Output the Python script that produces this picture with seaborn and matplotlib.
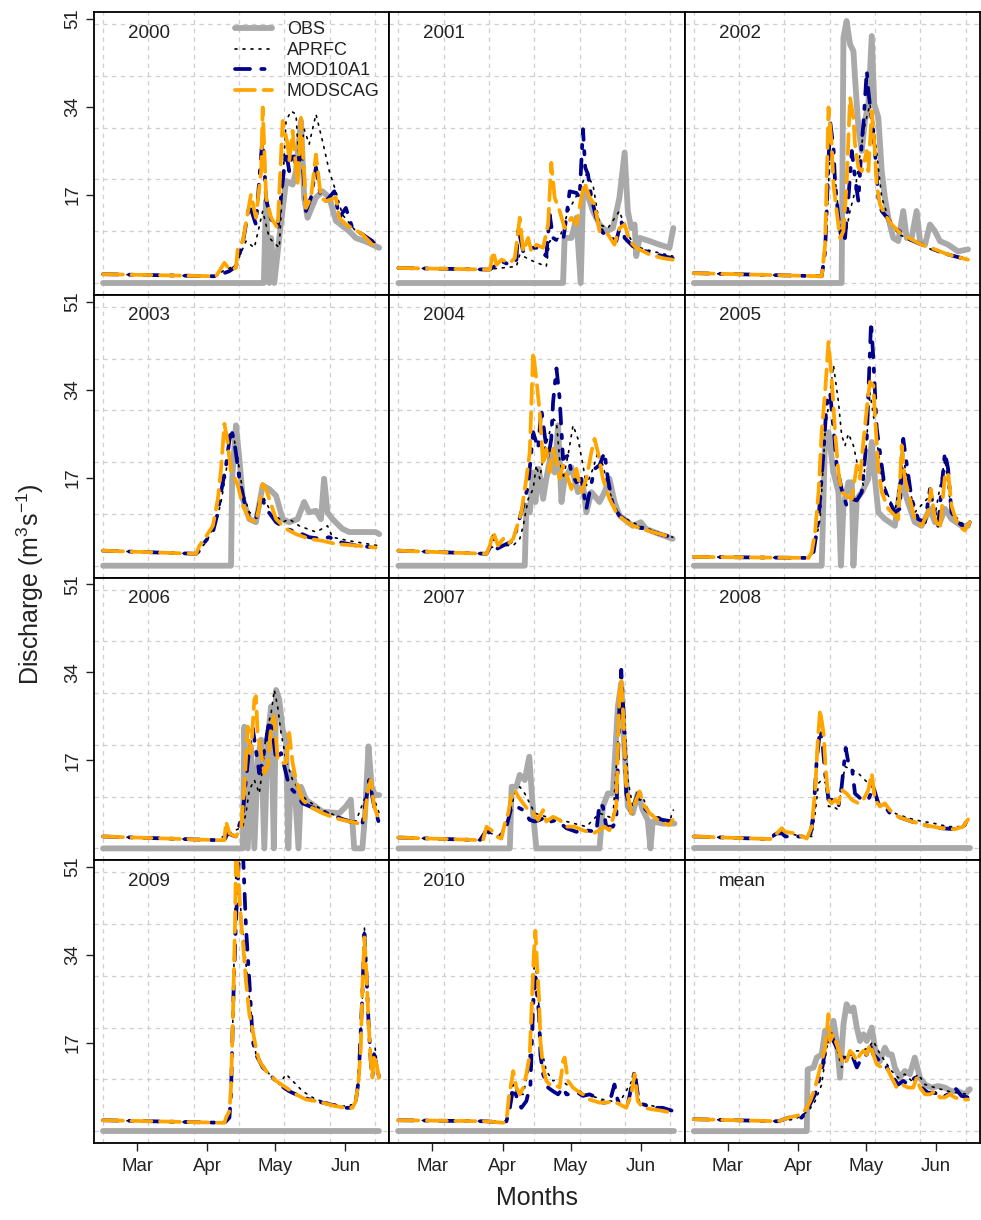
import matplotlib
matplotlib.use("Agg")
import matplotlib.pyplot as plt
from matplotlib.ticker import FixedLocator
import seaborn as sns
import pandas as pd

# ---------------- data (day index from 15 Feb, discharge m3/s) ----------------
PANELS = ["2000", "2001", "2002", "2003", "2004", "2005",
          "2006", "2007", "2008", "2009", "2010", "mean"]
SERIES = ["OBS", "APRFC", "MOD10A1", "MODSCAG"]
MONTH_POS = [15, 46, 76, 107]
MONTH_LABELS = ["Mar", "Apr", "May", "Jun"]
Y_TICKS = [17, 34, 51]

# ---- 2000
OBS_2000 = [(0, 0), (71, 0), (71.9, 15.8), (73.4, 0), (74.2, 8.7), (75.6, 0), (77.8, 8.7), (80.8, 19.7),
            (83.7, 19.0), (85.2, 21.6), (87.4, 31.3), (88.8, 16.5), (90.3, 12.6), (94, 16.5), (96.9, 17.7),
            (99.9, 16.5), (102.8, 12.0), (108.7, 10.0), (111.6, 8.7), (116, 8.0), (121.9, 6.8)]
APRFC_2000 = [(0, 1.7), (49.9, 1.3), (52.9, 2.3), (58.7, 3.5), (63.1, 8.1), (66.8, 6.8), (70.5, 13.9),
              (73.4, 8.7), (77.8, 6.8), (80.8, 31.3), (83, 33.2), (85.2, 32.6), (86.6, 22.3), (88.8, 29.7),
              (91, 26.8), (94, 32.6), (96.9, 27.4), (99.9, 21.6), (102.8, 17.7), (105.7, 13.2), (111.6, 10.0),
              (118.9, 8.1), (121.9, 7.4)]
MOD10A1_2000 = [(0, 1.7), (49.9, 1.3), (55.8, 2.3), (58.7, 3.2), (61.7, 7.7), (64.6, 15.2), (67.5, 11.3),
                (70.5, 28.7), (72, 16.1), (74.2, 12.3), (77.1, 10.6), (80.8, 25.5), (82.2, 21.6), (83.7, 25.5),
                (85.9, 21.6), (87.4, 28.1), (89.6, 13.9), (91.8, 16.5), (94, 22.3), (96.2, 16.5), (98.4, 15.8),
                (102.1, 17.7), (104.3, 12.6), (107.2, 14.5), (110.1, 10.6), (114.5, 9.4), (118.9, 8.1),
                (121.9, 7.1)]
MODSCAG_2000 = [(0, 1.7), (49.9, 1.3), (53.6, 3.9), (55.8, 2.6), (58.7, 2.9), (59.5, 6.8), (61.7, 8.1),
                (65.3, 17.1), (67.5, 12.6), (69.8, 21.6), (70.5, 33.9), (72, 16.5), (74.2, 12.6), (77.1, 10.6),
                (79.3, 31.3), (81.5, 26.8), (82.2, 23.5), (83.7, 29.4), (85.9, 19.0), (87.4, 31.9), (89.6, 14.5),
                (91.8, 16.5), (94, 24.8), (96.2, 16.5), (98.4, 15.8), (102.8, 16.5), (104.3, 12.6),
                (107.2, 11.3), (110.1, 10.6), (114.5, 9.4), (118.9, 7.4), (121.9, 6.8)]

# ---- 2001
OBS_2001 = [(0, 0), (72.7, 0), (73.4, 8.7), (76.4, 8.7), (78.6, 12.6), (80.5, 0), (81.5, 16.5), (83, 17.7),
            (85.9, 13.9), (88.8, 11.3), (91.8, 10.0), (94.7, 10.6), (97.6, 16.5), (99.9, 25.2), (101.3, 13.9),
            (102.8, 10.6), (104.3, 11.3), (105, 5.2), (106.5, 8.7), (110.9, 8.1), (115.3, 7.4), (119.7, 6.8),
            (121.4, 10.6)]
APRFC_2001 = [(0, 2.9), (38.9, 2.6), (52.1, 3.2), (53.6, 5.5), (59.5, 4.2), (65.3, 3.2), (66.8, 8.1),
              (71.2, 8.7), (75, 13.9), (78.6, 16.8), (83, 21.0), (85.9, 19.0), (88.8, 11.3), (92.5, 10.6),
              (97.6, 13.9), (100.6, 10.0), (104.3, 7.1), (112.3, 6.1), (121.1, 5.2)]
MOD10A1_2001 = [(0, 2.9), (38.9, 2.6), (40.4, 2.6), (45.5, 4.2), (49.2, 3.5), (52.1, 4.5), (52.9, 10.6),
                (55.1, 6.1), (57.3, 6.8), (61, 6.8), (65.3, 5.2), (66.8, 13.2), (68.3, 8.7), (70.5, 8.1),
                (72.7, 8.1), (74.9, 15.2), (75.6, 17.7), (78.6, 17.4), (80, 16.5), (81.5, 29.7), (82.5, 22.3),
                (83.7, 21.0), (85.2, 16.5), (87.4, 12.6), (90.3, 9.7), (96.2, 8.1), (98.4, 12.0), (99.9, 8.7),
                (103.5, 7.1), (109.4, 6.1), (116.7, 5.2), (121.1, 4.8)]
MODSCAG_2001 = [(0, 2.9), (38.9, 2.6), (40.4, 2.6), (41.9, 6.1), (43.3, 3.5), (45.5, 4.5), (49.2, 3.9),
                (51.4, 4.8), (53.6, 12.6), (55.1, 6.1), (57.3, 8.7), (58.7, 6.1), (60.9, 7.4), (63.9, 6.8),
                (66.1, 11.3), (67.5, 23.2), (69, 16.5), (71.2, 13.9), (73.4, 10.6), (76.4, 12.6), (78.6, 11.3),
                (80.8, 16.5), (82.2, 19.4), (84.4, 16.5), (86.6, 15.2), (88.8, 10.0), (92.5, 9.4), (95.4, 7.4),
                (97.6, 10.6), (99.9, 11.3), (102.1, 8.1), (105, 6.8), (110.9, 5.5), (116.7, 4.8), (121.1, 4.5)]

# ---- 2002
OBS_2002 = [(0, 0), (65.3, 0), (66.1, 47.4), (67.5, 50.6), (69, 46.1), (70.5, 44.8), (71.2, 39.7),
            (72.7, 30.0), (74.2, 25.5), (75.6, 31.3), (77.1, 34.5), (78.6, 47.7), (79.7, 34.5), (81.5, 32.0),
            (83, 21.6), (84.4, 16.5), (85.9, 12.6), (88.1, 8.7), (90.3, 8.1), (92.5, 13.9), (94, 8.7),
            (96.2, 8.7), (98.4, 13.9), (99.9, 8.1), (102.1, 7.4), (104.3, 11.3), (106.5, 10.0), (108.7, 8.1),
            (112.3, 7.4), (116.7, 6.1), (121.1, 6.5)]
APRFC_2002 = [(0, 1.9), (56.5, 1.3), (57.3, 2.9), (58.7, 11.3), (60.2, 25.5), (62.4, 20.3), (64.6, 10.6),
              (66.8, 8.7), (69, 13.9), (71.2, 17.7), (73.4, 24.8), (75.6, 30.6), (77.8, 34.5), (79.3, 31.3),
              (81.5, 22.3), (83, 16.5), (85.9, 12.6), (90.3, 9.4), (97.6, 8.1), (106.5, 6.1), (114, 5.2),
              (121.1, 4.8)]
MOD10A1_2002 = [(0, 1.9), (56.5, 1.3), (58, 6.1), (60.2, 31.3), (61.7, 26.1), (62.4, 19.4), (63.9, 12.6),
                (65.3, 8.1), (66.8, 8.7), (68.3, 16.5), (69.8, 25.5), (71.2, 20.3), (72.7, 15.8), (74.2, 27.4),
                (74.9, 30.6), (76.4, 41.0), (77.1, 37.1), (78.6, 31.3), (80, 25.5), (81.5, 16.5), (83, 13.9),
                (85.9, 12.3), (88.8, 10.6), (91.8, 9.7), (95.4, 8.4), (99.1, 7.7), (105.7, 6.5), (112.3, 5.5),
                (121.1, 4.5)]
MODSCAG_2002 = [(0, 1.9), (56.5, 1.3), (58, 7.4), (59.5, 33.9), (60.9, 26.8), (61.7, 19.0), (63.1, 13.9),
                (64.6, 8.7), (66.1, 10.0), (67.5, 19.0), (69, 35.8), (70.5, 32.0), (71.2, 26.8), (72.7, 22.3),
                (74.2, 21.6), (76.4, 25.5), (77.1, 21.6), (78.6, 33.2), (79.7, 27.4), (80.8, 19.0), (82.2, 15.2),
                (84.4, 13.2), (87.4, 11.3), (91.8, 9.4), (96.2, 8.4), (100.6, 7.4), (106.5, 6.5), (112.3, 5.5),
                (121.1, 4.5)]

# ---- 2003
OBS_2003 = [(0, 0), (56.5, 0), (57, 16.8), (58.7, 27.1), (60.2, 20.6), (61.7, 12.9), (64.6, 9.0),
            (67.5, 8.4), (70.5, 15.5), (73.4, 14.8), (76.4, 13.5), (79.3, 9.0), (82.2, 8.4), (85.9, 9.0),
            (88.8, 12.3), (91, 10.3), (94, 10.6), (96.2, 9.0), (97.6, 16.8), (99.1, 10.3), (101.3, 9.0),
            (105.7, 7.1), (108.7, 6.5), (114.5, 6.5), (120.4, 6.5), (121.9, 6.1)]
APRFC_2003 = [(0, 2.9), (41.1, 2.3), (42.6, 3.2), (45.5, 4.5), (49.9, 8.4), (52.1, 12.3), (54.3, 18.0),
              (55.8, 23.9), (57.3, 25.8), (59.5, 20.6), (61.7, 14.2), (64.6, 10.3), (67.5, 9.7), (70.5, 13.5),
              (73.4, 11.0), (79.3, 8.4), (82.2, 9.0), (86.6, 7.7), (94, 6.5), (99.1, 7.7), (101.3, 5.5),
              (108.7, 4.8), (121.1, 3.9)]
MOD10A1_2003 = [(0, 2.9), (41.1, 2.3), (42.6, 2.9), (44.8, 4.5), (48.5, 6.5), (50.7, 10.3), (52.1, 14.2),
                (54.3, 19.4), (56.5, 26.5), (58, 23.9), (60.2, 16.8), (62.4, 12.3), (64.6, 9.0), (67.5, 9.0),
                (69.8, 13.5), (72, 11.0), (76.4, 8.4), (80.8, 7.1), (85.9, 6.5), (91, 5.5), (96.2, 5.2),
                (99.9, 5.5), (105, 4.5), (111.6, 3.9), (120.4, 3.5)]
MODSCAG_2003 = [(0, 2.9), (41.1, 2.3), (42.6, 3.9), (44.8, 5.2), (48.5, 7.7), (50.7, 12.9), (52.1, 18.7),
                (53.6, 27.4), (55, 23.9), (56.5, 18.0), (58, 17.1), (59.5, 15.5), (61.7, 11.6), (64.6, 9.0),
                (67.5, 8.4), (69, 11.6), (70.5, 15.8), (72, 14.8), (73.4, 12.9), (76.4, 9.0), (80.8, 7.1),
                (85.2, 6.1), (91, 5.2), (96.9, 4.8), (102.8, 4.2), (111.6, 3.9), (120.4, 3.5)]

# ---- 2004
OBS_2004 = [(0, 0), (55.8, 0), (56.5, 11.6), (58, 10.3), (59.5, 18.0), (60.5, 12.3), (62, 18.7),
            (63.9, 12.9), (65.3, 16.8), (67.5, 21.9), (69, 18.0), (70.5, 27.1), (72, 12.3), (73.4, 16.8),
            (74.9, 18.0), (76.4, 19.0), (77.8, 16.8), (79.3, 14.2), (81.5, 15.5), (83, 10.3), (85.2, 14.2),
            (86.6, 13.5), (88.8, 12.3), (91, 14.2), (93.2, 16.8), (95.4, 12.3), (97.6, 9.7), (103.5, 7.7),
            (107, 8.4), (109.4, 7.1), (115.3, 6.1), (121.1, 5.2)]
APRFC_2004 = [(0, 2.9), (38.9, 2.3), (40.4, 3.5), (46.3, 3.9), (50.7, 3.9), (53.6, 5.2), (55.1, 7.7),
              (57.3, 12.9), (59.5, 14.8), (60.9, 19.4), (62.4, 16.8), (64.6, 22.6), (66.8, 25.8), (68.3, 28.4),
              (69.8, 27.7), (71.2, 20.6), (72.7, 16.8), (74.9, 21.3), (77.1, 27.1), (79.3, 24.5), (81.5, 19.4),
              (83, 15.5), (85.9, 18.7), (88.1, 21.9), (90.3, 19.4), (92.5, 15.5), (94.7, 12.3), (97.6, 9.7),
              (106.5, 7.7), (121.1, 5.5)]
MOD10A1_2004 = [(0, 2.9), (38.9, 2.3), (40.4, 3.5), (41.9, 5.8), (43.3, 3.2), (46.3, 3.9), (50.7, 4.8),
                (55.1, 11.6), (57.3, 15.5), (59.5, 25.8), (61.7, 22.6), (63.1, 30.3), (64.6, 25.2), (66.1, 20.6),
                (67.5, 24.5), (68.3, 31.6), (69.8, 38.1), (71.2, 32.3), (72.7, 20.6), (74.9, 21.3), (76.4, 18.0),
                (78.6, 16.1), (80.8, 16.8), (83, 11.0), (84.4, 14.2), (86.6, 18.7), (88.8, 19.4), (91, 21.9),
                (92.5, 16.8), (94.7, 11.6), (97.6, 9.7), (103.5, 7.7), (108.7, 7.1), (115.3, 6.1), (121.1, 5.5)]
MODSCAG_2004 = [(0, 2.9), (38.9, 2.3), (40.4, 3.9), (41.9, 6.5), (44, 3.9), (46.3, 5.2), (48.5, 4.2),
                (50.7, 5.2), (54.3, 10.3), (56.5, 16.8), (58, 21.9), (59.5, 41.3), (60.9, 36.1), (62.4, 29.7),
                (63.9, 19.4), (65.3, 22.6), (66.8, 18.0), (68.3, 22.6), (69.8, 20.0), (71.2, 16.8), (72.7, 19.4),
                (74.9, 16.8), (76.4, 14.8), (78.6, 18.7), (80.8, 14.2), (83, 16.8), (85.2, 21.9), (86.6, 24.5),
                (88.1, 21.9), (90.3, 16.8), (93.2, 12.9), (96.2, 10.3), (99.1, 9.0), (103.5, 7.7), (107.9, 7.1),
                (112.3, 6.5), (118.2, 5.8), (121.1, 5.2)]

# ---- 2005
OBS_2005 = [(0, 0), (56.5, 0), (58, 25.2), (59.5, 25.8), (61.7, 18.0), (63.9, 14.2), (65, 0), (66.1, 11.6),
            (68.3, 16.1), (69.8, 16.1), (70.5, 0), (72, 12.9), (74.2, 14.2), (77.1, 16.8), (78.6, 23.9),
            (80, 16.8), (81.5, 10.3), (84.4, 9.0), (88.8, 7.7), (91.8, 16.8), (94.1, 12.9), (97.6, 8.4),
            (100.6, 7.7), (104.3, 11.0), (106.5, 8.4), (108.7, 8.4), (110.9, 11.0), (113.8, 9.0), (118.2, 7.7),
            (121.1, 7.7)]
APRFC_2005 = [(0, 1.7), (50.7, 1.5), (52.9, 2.6), (55.8, 9.0), (58, 25.8), (61.7, 38.7), (63.9, 31.6),
              (65.3, 25.2), (66.8, 23.2), (68.3, 25.5), (70.5, 23.2), (72.7, 18.7), (74.9, 15.5), (76.4, 24.5),
              (77.8, 33.5), (80, 27.1), (83, 16.8), (88.8, 10.3), (92.5, 20.6), (97.6, 10.3), (104.3, 13.5),
              (106.5, 9.7), (110.9, 20.6), (113.8, 10.3), (119.7, 7.7), (121.9, 8.4)]
MOD10A1_2005 = [(0, 1.7), (50.7, 1.5), (52.9, 2.6), (55.1, 9.0), (57.3, 21.9), (58.7, 31.6), (60.2, 33.5),
                (61.7, 26.5), (63.1, 19.4), (65.3, 14.8), (67.5, 11.6), (69.8, 12.9), (72, 12.6), (74.2, 14.2),
                (76.4, 24.5), (77.4, 36.8), (78.3, 47.1), (79.3, 40.0), (80.8, 26.5), (83, 19.4), (84.4, 14.8),
                (85.9, 12.9), (88.8, 10.3), (91, 11.0), (92.5, 24.5), (94.1, 19.4), (96.2, 12.9), (99.1, 9.0),
                (102.1, 8.4), (104.3, 14.8), (105.7, 11.6), (107.9, 7.7), (110.9, 21.9), (112.3, 18.7),
                (113.8, 10.3), (116.7, 8.4), (120.4, 7.1), (121.9, 8.4)]
MODSCAG_2005 = [(0, 1.7), (50.7, 1.5), (52.1, 2.6), (53.6, 6.5), (55.1, 14.2), (56.5, 25.8), (58, 33.5),
                (59.5, 43.2), (60.9, 36.1), (62.4, 25.8), (63.9, 18.0), (65.3, 14.2), (67.5, 13.5), (69.8, 12.9),
                (72, 19.4), (73.4, 16.8), (74.9, 23.9), (76.4, 30.3), (77.8, 35.5), (79.3, 34.8), (80, 29.0),
                (81.5, 18.7), (83, 14.2), (85.9, 11.0), (90.3, 9.0), (91.8, 23.2), (93.2, 16.8), (94.7, 14.2),
                (97.6, 9.0), (100.6, 7.7), (103.5, 10.3), (104.7, 14.8), (106.5, 9.0), (108.7, 7.1),
                (110.9, 17.4), (112.3, 18.0), (113.8, 11.6), (116.7, 7.7), (119.7, 6.8), (121.9, 8.4)]

# ---- 2006
OBS_2006 = [(0, 0), (61.7, 0), (62.4, 23.5), (63.9, 0), (65.3, 19.7), (66.8, 0), (68.3, 17.1), (69.8, 21.0),
            (71.2, 0), (72.7, 21.0), (74.2, 27.4), (75.4, 0), (76.4, 30.6), (77.8, 28.7), (79.3, 22.9),
            (80.8, 21.0), (81.8, 0), (83, 14.5), (84.4, 13.2), (86.3, 0), (87.4, 11.9), (89.6, 9.4),
            (96.9, 7.1), (104.3, 6.8), (107.2, 8.1), (109.4, 9.4), (110.9, 0), (114.5, 0), (115.7, 6.8),
            (117.2, 19.7), (118.6, 11.9), (120.1, 10.3), (121.9, 10.3)]
APRFC_2006 = [(0, 2.3), (49.9, 1.6), (55.8, 2.9), (61.7, 4.2), (63.1, 6.8), (64.6, 11.3), (66.8, 13.2),
              (69, 10.6), (70.5, 15.8), (72, 22.3), (74.2, 26.1), (75.6, 30.6), (77.1, 27.4), (78.6, 22.3),
              (80.8, 17.1), (83.7, 13.2), (86.6, 11.3), (89.6, 9.4), (96.9, 7.4), (105.7, 5.8), (111.6, 5.2),
              (117.5, 11.9), (120.4, 8.7), (121.9, 6.8)]
MOD10A1_2006 = [(0, 2.3), (49.9, 1.6), (53.6, 1.6), (55, 2.9), (58.7, 2.3), (61.7, 6.8), (63.1, 13.2),
                (64.6, 19.4), (66.1, 23.2), (67.5, 19.0), (69, 14.5), (70.5, 17.1), (72, 21.0), (73.4, 24.8),
                (74.9, 22.3), (76.4, 17.1), (78.6, 18.4), (80.8, 14.5), (82.2, 11.9), (85.2, 10.6), (88.1, 8.7),
                (96.9, 7.1), (108.7, 5.2), (114.5, 4.8), (117.5, 13.2), (119.7, 8.1), (121.9, 4.8)]
MODSCAG_2006 = [(0, 2.3), (49.9, 1.6), (53.6, 1.6), (54.3, 5.2), (55.8, 2.9), (58.7, 2.3), (61, 4.2),
                (62.4, 11.9), (63.9, 23.5), (65.3, 18.4), (66.8, 28.7), (67.5, 29.4), (68.2, 22.6), (69.8, 18.4),
                (71.2, 14.5), (72.7, 15.8), (74.2, 23.5), (75.6, 25.5), (77.1, 17.1), (78.6, 16.5), (80.8, 16.5),
                (82.2, 22.3), (83.7, 16.5), (85.2, 13.2), (88.1, 9.4), (91, 8.1), (96.9, 6.8), (102.8, 5.8),
                (108.7, 5.2), (113, 4.8), (115.3, 5.2), (116.7, 10.6), (118.2, 13.2), (119.7, 8.1), (121.9, 5.5)]

# ---- 2007
OBS_2007 = [(0, 0), (49.2, 0), (50, 11.9), (52.1, 11.9), (53.6, 14.2), (55.8, 13.2), (57.8, 17.7),
            (59.5, 6.8), (60.9, 0), (88.8, 0), (90.3, 8.1), (92.5, 10.6), (94.7, 10.6), (96.9, 27.4),
            (98.4, 31.9), (99.4, 22.3), (101.3, 8.1), (103.5, 6.8), (105.7, 10.6), (107.9, 7.4), (110.1, 5.5),
            (111.3, 0), (112.3, 5.2), (116.7, 4.8), (121.9, 4.8)]
APRFC_2007 = [(0, 2.1), (36, 1.6), (38.9, 3.2), (44.8, 2.3), (49.2, 6.8), (51.4, 10.6), (53.6, 11.9),
              (55.8, 10.6), (58, 8.7), (60.2, 6.8), (65.3, 6.1), (74.2, 5.2), (83, 4.2), (88.8, 6.8),
              (94.7, 5.8), (98.4, 30.6), (99.9, 26.1), (101.3, 13.2), (103.5, 8.1), (106.5, 11.3), (110.9, 6.8),
              (119.7, 5.2), (121.4, 7.4)]
MOD10A1_2007 = [(0, 2.1), (36, 1.6), (38.9, 3.5), (40.4, 2.9), (44.8, 2.3), (47.7, 4.2), (50, 8.1),
                (52.1, 8.1), (55.1, 7.4), (58, 5.5), (60.2, 5.2), (62.4, 5.5), (65.3, 6.1), (67.5, 5.2),
                (69.8, 5.5), (74.2, 3.9), (78.6, 3.2), (83, 3.5), (87.4, 3.2), (88.8, 8.7), (90.3, 8.1),
                (91.8, 4.2), (94.7, 4.2), (96.2, 5.5), (97.6, 27.4), (98.4, 34.5), (99.4, 26.1), (100.6, 10.6),
                (102.8, 6.8), (105.7, 10.6), (107.9, 8.1), (112.3, 6.1), (116.7, 5.5), (121.1, 5.2)]
MODSCAG_2007 = [(0, 2.1), (36, 1.6), (37.4, 1.6), (38.9, 4.2), (41.1, 3.5), (43.3, 2.3), (45.5, 1.9),
                (47, 4.8), (48.5, 6.8), (50, 10.6), (51.4, 11.3), (52.9, 10.0), (55.1, 8.7), (57.3, 7.4),
                (59.5, 6.8), (61.7, 5.5), (63.9, 7.4), (65.3, 5.2), (68.3, 6.1), (71.2, 5.5), (74.2, 4.2),
                (77.8, 4.2), (81.5, 3.5), (85.9, 2.9), (88.8, 3.5), (91, 4.2), (93.2, 3.5), (96.2, 8.1),
                (97.6, 30.0), (98.4, 32.6), (99.4, 24.8), (100.6, 11.9), (102.8, 6.8), (105, 9.4), (106.5, 11.0),
                (107.9, 8.7), (110.9, 6.8), (115.3, 5.2), (119.7, 4.5), (121.1, 5.5)]

# ---- 2008
OBS_2008 = [(0, 0), (121.9, 0)]
APRFC_2008 = [(0, 2.3), (33.8, 1.8), (38.9, 3.5), (44.8, 2.6), (52.1, 2.3), (53.6, 6.8), (55.1, 12.6),
              (56.5, 13.2), (58.3, 12.6), (59.5, 8.1), (61.7, 8.1), (63.9, 7.4), (65.3, 11.9), (66.8, 15.8),
              (69.8, 15.2), (72.7, 14.5), (75.6, 13.2), (78.6, 11.9), (80, 9.4), (83, 8.7), (85.9, 7.4),
              (90.3, 6.5), (97.6, 5.5), (106.5, 4.8), (112.3, 4.2), (119.7, 4.2), (121.1, 5.2)]
MOD10A1_2008 = [(0, 2.3), (33.8, 1.8), (34.5, 2.3), (36.7, 2.9), (38.9, 2.9), (40.4, 2.3), (44.8, 2.3),
                (51.4, 2.3), (52.9, 6.8), (54.3, 17.1), (55.8, 22.9), (56.8, 20.6), (58, 14.5), (59.5, 9.4),
                (61.7, 9.4), (63.9, 8.1), (65.3, 11.9), (67.1, 19.4), (68.3, 16.5), (69.8, 15.8), (71.2, 10.6),
                (74.2, 9.4), (77.1, 9.4), (79.3, 11.9), (81.5, 8.7), (84.4, 8.1), (86.6, 6.8), (90.3, 6.1),
                (96.2, 5.2), (102.1, 4.5), (109.4, 3.9), (115.3, 3.7), (119, 4.2), (121.4, 5.8)]
MODSCAG_2008 = [(0, 2.3), (33.8, 1.8), (34.5, 2.3), (36.7, 2.9), (38.9, 3.9), (40.4, 3.2), (44.8, 2.9),
                (49.9, 1.9), (52.1, 4.2), (53.6, 11.3), (54.8, 21.0), (55.8, 26.8), (57.3, 22.3), (58.3, 15.2),
                (59.5, 9.4), (60.9, 8.7), (62.4, 9.4), (63.9, 8.7), (65.3, 11.3), (67.5, 10.6), (69.8, 9.4),
                (72.7, 8.7), (74.9, 9.4), (77.1, 11.3), (78.6, 14.5), (80, 9.4), (82.2, 8.1), (84.4, 8.7),
                (86.6, 7.4), (90.3, 6.1), (96.2, 5.2), (102.1, 4.5), (109.4, 3.9), (115.3, 3.7), (119, 4.2),
                (121.4, 5.8)]

# ---- 2009
OBS_2009 = [(0, 0), (121.9, 0)]
APRFC_2009 = [(0, 2.1), (53.6, 1.6), (55.8, 2.6), (56.5, 7.7), (57.3, 21.3), (58.7, 51.6), (59.5, 52.0),
              (60.2, 46.0), (61.1, 41.3), (63.1, 32.3), (65, 24.0), (67.5, 14.8), (73.4, 11.0), (77.8, 9.0),
              (80.8, 11.0), (83.7, 9.7), (88.1, 7.7), (94, 6.1), (105.7, 4.8), (111.6, 5.2), (112.8, 9.7),
              (114.5, 25.8), (115.4, 39.4), (116.7, 25.8), (118.2, 12.3), (120.1, 16.1), (121.9, 10.3)]
MOD10A1_2009 = [(0, 2.1), (53.6, 1.6), (54.3, 1.9), (55.8, 2.6), (56.5, 7.1), (57.6, 26.5), (58.7, 40.6),
                (60.2, 55.0), (61.7, 54.6), (62.4, 47.1), (63.1, 39.4), (64.6, 29.0), (66.1, 17.4), (67.5, 14.8),
                (70.5, 12.3), (73.4, 11.0), (77.8, 9.0), (82.2, 7.7), (88.1, 6.5), (94, 5.8), (99.9, 5.2),
                (107.2, 4.5), (110.1, 4.5), (111.6, 5.8), (112.8, 9.7), (114.5, 26.5), (115.4, 38.1),
                (116.3, 30.3), (117.2, 21.3), (118.2, 13.5), (118.9, 10.3), (119.7, 14.8), (120.7, 12.9),
                (121.9, 10.3)]
MODSCAG_2009 = [(0, 2.1), (53.6, 1.6), (54.3, 2.6), (55.8, 3.9), (56.5, 8.4), (57.3, 21.3), (57.7, 29.0),
                (58.3, 40.6), (58.7, 54.0), (59.5, 51.0), (60.2, 45.8), (60.9, 40.6), (61.7, 36.8), (63.1, 29.0),
                (64.6, 22.6), (66.1, 19.4), (67.5, 16.1), (69, 13.5), (72, 11.6), (76.4, 9.7), (80.8, 8.4),
                (85.2, 7.1), (89.6, 6.1), (94, 5.8), (98.4, 5.3), (102.8, 4.8), (107.2, 4.5), (110.1, 4.5),
                (111.6, 5.8), (112.8, 9.7), (113.8, 16.1), (114.5, 27.7), (115.4, 37.4), (116.3, 30.3),
                (117.2, 21.3), (118.2, 13.5), (118.9, 10.3), (119.7, 14.8), (120.7, 12.9), (121.9, 10.3)]

# ---- 2010
OBS_2010 = [(0, 0), (121.9, 0)]
APRFC_2010 = [(0, 2.1), (38.9, 1.9), (46.3, 1.6), (47.7, 1.9), (49.2, 6.5), (50.7, 9.0), (52.9, 7.1),
              (55.1, 7.1), (57.3, 11.6), (58.7, 20.0), (60.2, 34.2), (61.7, 26.5), (63.1, 16.1), (65.3, 11.6),
              (68.3, 9.7), (71.2, 10.3), (74.2, 9.0), (77.1, 8.4), (83, 7.1), (90.3, 6.1), (97.6, 5.5),
              (104.3, 10.6), (106.5, 5.5), (121.1, 3.9)]
MOD10A1_2010 = [(0, 2.1), (38.9, 1.9), (46.3, 1.6), (47.7, 1.9), (49.2, 4.5), (50.7, 8.4), (52.9, 5.8),
                (54.3, 4.5), (56.5, 5.8), (58.3, 9.0), (59.5, 24.5), (60.5, 29.7), (61.2, 26.5), (62.1, 22.6),
                (62.7, 14.8), (63.9, 11.0), (66.1, 8.4), (68.3, 7.7), (70.5, 7.1), (72.7, 8.4), (74.2, 7.1),
                (77.1, 7.1), (79.3, 7.4), (81.5, 6.8), (84.4, 7.1), (87.4, 6.5), (90.3, 5.5), (93.2, 5.5),
                (95.4, 9.0), (96.9, 5.8), (99.1, 5.5), (101.3, 5.2), (104.3, 11.6), (105.7, 7.1), (107.9, 5.2),
                (112.3, 4.5), (116.7, 4.5), (121.1, 3.9)]
MODSCAG_2010 = [(0, 2.1), (38.9, 1.9), (46.3, 1.6), (47.7, 1.9), (48.9, 7.1), (50, 9.7), (50.7, 11.6),
                (52.1, 8.4), (53.6, 7.1), (55.1, 8.4), (56.5, 11.0), (58, 14.8), (59, 25.8), (59.8, 34.2),
                (60.5, 38.7), (61.2, 32.3), (62.1, 25.8), (62.7, 17.4), (63.9, 12.3), (65.3, 9.7), (66.8, 9.0),
                (69, 9.0), (71.2, 8.4), (72.7, 13.5), (73.4, 14.2), (74.9, 9.7), (77.1, 8.4), (79.3, 7.7),
                (81.5, 7.1), (84.4, 6.1), (88.8, 5.5), (91.8, 5.5), (94.7, 5.8), (97.6, 5.2), (100.6, 4.5),
                (102.8, 7.1), (104.3, 11.0), (105.7, 5.8), (107.9, 4.5), (112.3, 4.2), (116.7, 3.9), (121.1, 3.5)]

# ---- mean
OBS_mean = [(0, 0), (49.9, 0), (50.3, 11.9), (52.9, 12.3), (54.3, 14.2), (56.5, 14.8), (58, 19.4),
            (59.5, 17.4), (61.7, 21.3), (63.1, 17.4), (64.6, 10.3), (66.1, 20.6), (67.5, 24.5), (69, 23.2),
            (70.5, 23.9), (72, 20.0), (73.4, 17.4), (74.9, 18.7), (76.4, 17.4), (78.6, 20.0), (80, 16.1),
            (82.2, 13.5), (84.4, 16.1), (85.9, 14.8), (87.4, 14.8), (88.8, 12.3), (91, 10.3), (93.2, 11.6),
            (95.4, 11.0), (97.6, 14.2), (99.9, 10.3), (102.1, 9.0), (105, 8.4), (107.9, 8.7), (110.9, 8.4),
            (113.8, 7.7), (116.7, 7.7), (119.7, 7.1), (121.9, 8.1)]
APRFC_mean = [(0, 2.3), (37.4, 1.9), (44.8, 2.3), (50.7, 3.9), (53.6, 5.8), (56.5, 9.0), (58.7, 16.1),
              (60.9, 18.7), (63.1, 16.1), (65.3, 12.3), (68.3, 14.2), (71.2, 15.5), (74.2, 15.5), (77.1, 16.1),
              (79.3, 17.4), (81.5, 15.5), (84.4, 13.5), (87.4, 11.6), (90.3, 10.3), (93.2, 11.0), (96.2, 9.7),
              (99.1, 11.0), (102.1, 9.0), (106.5, 8.4), (112.3, 7.7), (121.1, 7.1)]
MOD10A1_mean = [(0, 2.3), (37.4, 1.9), (41.9, 2.6), (47.7, 2.6), (51.4, 5.2), (53.6, 7.1), (56.5, 11.6),
                (58, 15.5), (60.2, 19.4), (61.7, 17.4), (63.1, 16.1), (65.3, 14.2), (67.5, 14.2), (69.8, 14.8),
                (72, 12.3), (74.2, 14.2), (76.4, 14.8), (77.8, 16.8), (79.3, 14.8), (82.2, 13.5), (85.2, 12.3),
                (88.1, 10.3), (90.3, 9.0), (92.5, 9.7), (94.7, 9.0), (97.6, 10.3), (100.6, 8.4), (103.5, 7.4),
                (106.5, 7.4), (109.4, 6.5), (112.3, 7.1), (115.3, 8.4), (118.2, 6.8), (121.1, 6.5)]
MODSCAG_mean = [(0, 2.3), (37.4, 1.9), (41.9, 2.6), (44.8, 2.9), (47.7, 3.2), (49.9, 4.5), (51.4, 5.8),
                (53.6, 8.4), (55.1, 11.0), (56.5, 13.5), (58, 16.1), (59.5, 22.6), (60.2, 17.4), (61.7, 18.7),
                (63.1, 16.8), (64.6, 14.8), (66.1, 12.9), (67.5, 13.5), (69, 15.5), (70.5, 14.8), (72, 13.5),
                (73.4, 14.8), (74.9, 15.5), (76.4, 14.8), (77.8, 16.8), (79.3, 14.8), (80.8, 12.9), (83, 12.3),
                (85.2, 12.3), (87.4, 10.3), (89.6, 8.4), (91.8, 9.0), (94.7, 8.4), (96.9, 8.4), (98.4, 10.3),
                (99.9, 8.4), (102.1, 7.1), (104.3, 7.1), (106.5, 7.7), (108.7, 6.5), (110.9, 6.5), (113, 7.1),
                (115.3, 6.5), (118.2, 6.1), (121.1, 6.1)]

PANEL_DATA = {
    "2000": [OBS_2000, APRFC_2000, MOD10A1_2000, MODSCAG_2000],
    "2001": [OBS_2001, APRFC_2001, MOD10A1_2001, MODSCAG_2001],
    "2002": [OBS_2002, APRFC_2002, MOD10A1_2002, MODSCAG_2002],
    "2003": [OBS_2003, APRFC_2003, MOD10A1_2003, MODSCAG_2003],
    "2004": [OBS_2004, APRFC_2004, MOD10A1_2004, MODSCAG_2004],
    "2005": [OBS_2005, APRFC_2005, MOD10A1_2005, MODSCAG_2005],
    "2006": [OBS_2006, APRFC_2006, MOD10A1_2006, MODSCAG_2006],
    "2007": [OBS_2007, APRFC_2007, MOD10A1_2007, MODSCAG_2007],
    "2008": [OBS_2008, APRFC_2008, MOD10A1_2008, MODSCAG_2008],
    "2009": [OBS_2009, APRFC_2009, MOD10A1_2009, MODSCAG_2009],
    "2010": [OBS_2010, APRFC_2010, MOD10A1_2010, MODSCAG_2010],
    "mean": [OBS_mean, APRFC_mean, MOD10A1_mean, MODSCAG_mean],
}

rows = []
for p in PANELS:
    for s, pts in zip(SERIES, PANEL_DATA[p]):
        for d, v in pts:
            rows.append((p, s, d, v))
df = pd.DataFrame(rows, columns=["panel", "series", "day", "q"])

# ---------------- styling ----------------
sns.set_theme(style="white")
plt.rcParams["font.family"] = ["Liberation Sans", "DejaVu Sans"]
plt.rcParams["mathtext.fontset"] = "custom"
plt.rcParams["mathtext.rm"] = "Liberation Sans"
plt.rcParams["mathtext.it"] = "Liberation Sans:italic"

STYLE = {
    "OBS": dict(color="#A9A9A9", linewidth=4.2, linestyle="-", solid_capstyle="round",
                solid_joinstyle="round"),
    "APRFC": dict(color="black", linewidth=1.2, linestyle=(0, (1.2, 3.6)), dash_capstyle="round",
                  dash_joinstyle="round"),
    "MOD10A1": dict(color="#00008B", linewidth=2.7, linestyle=(0, (4.0, 3.0, 0.9, 3.0)),
                    dash_capstyle="round", dash_joinstyle="round"),
    "MODSCAG": dict(color="#FFA500", linewidth=2.7, linestyle=(0, (5.3, 2.3)), dash_capstyle="round",
                    dash_joinstyle="round"),
}
TXT = "#222222"

fig, axes = plt.subplots(4, 3, figsize=(9.81, 12.2), dpi=100, sharex=True, sharey=True,
                         gridspec_kw=dict(left=0.0958, right=0.999, top=0.990, bottom=0.0631,
                                          wspace=0, hspace=0))

for i, p in enumerate(PANELS):
    r, c = divmod(i, 3)
    ax = axes[r, c]
    sub = df[df["panel"] == p]
    for s in SERIES:
        d = sub[sub["series"] == s]
        sns.lineplot(data=d, x="day", y="q", ax=ax, estimator=None, sort=False,
                     label=s if i == 0 else None, legend=False, **STYLE[s])
    ax.set_xlabel("")
    ax.set_ylabel("")
    ax.set_xlim(-4, 126.4)
    ax.set_ylim(-2.3, 52.3)
    ax.set_xticks(MONTH_POS)
    ax.set_xticklabels(MONTH_LABELS)
    ax.set_yticks(Y_TICKS)
    ax.set_yticklabels([str(t) for t in Y_TICKS])
    ax.xaxis.set_minor_locator(FixedLocator([0, 20, 40, 60, 80, 100, 120]))
    ax.yaxis.set_minor_locator(FixedLocator([0, 10, 20, 30, 40, 50]))
    ax.grid(False, which="major")
    ax.grid(True, which="minor", color="#cfcfcf", lw=0.9, linestyle=(0, (3.5, 3.5)))
    ax.set_axisbelow(True)
    ax.tick_params(which="minor", length=0)
    ax.tick_params(axis="y", which="major", left=(c == 0), labelleft=(c == 0), direction="out",
                   length=6, width=1, color="#222222", labelsize=13.4, labelcolor=TXT, pad=3)
    ax.tick_params(axis="x", which="major", bottom=(r == 3), labelbottom=(r == 3), direction="out",
                   length=6, width=1, color="#222222", labelsize=13.4, labelcolor=TXT, pad=5)
    for lbl in ax.get_yticklabels():
        lbl.set_rotation(90)
        lbl.set_va("center")
    for sp in ax.spines.values():
        sp.set_visible(True)
        sp.set_color("black")
        sp.set_linewidth(1.3)
    ax.text(0.115, 0.926, p, transform=ax.transAxes, ha="left", va="center",
            fontsize=13.5, color=TXT)

leg = axes[0, 0].legend(loc="upper left", bbox_to_anchor=(0.476, 0.968), frameon=False,
                        borderpad=0, borderaxespad=0, handlelength=2.1, handletextpad=0.8,
                        labelspacing=0.2, fontsize=13)
for t in leg.get_texts():
    t.set_color(TXT)

fig.text(0.031, 0.521, "Discharge (m$^{3}$s$^{-1}$)", rotation=90, ha="center", va="center",
         fontsize=18, color=TXT)
fig.text(0.547, 0.018, "Months", ha="center", va="center", fontsize=18, color=TXT)

fig.savefig("out.png", dpi=100)
